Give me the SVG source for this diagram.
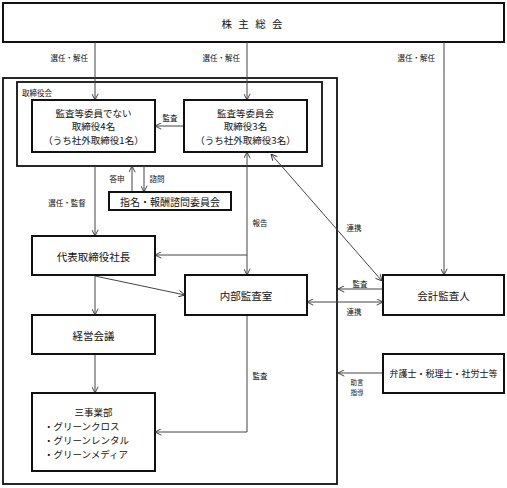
<svg xmlns="http://www.w3.org/2000/svg" width="507" height="488" viewBox="0 0 507 488">
<style>
text{font-family:"Noto Sans CJK JP","Noto Sans CJK SC",sans-serif;fill:#111;dominant-baseline:central}
.box{fill:#fff;stroke:#111;stroke-width:2}
.frame{fill:none;stroke:#111;stroke-width:1.8}
.c{fill:none;stroke:#444;stroke-width:1}
.t{font-size:9.5px;text-anchor:middle}
.ts{font-size:9.5px;text-anchor:start}
.tb{font-size:10.5px;text-anchor:middle}
.l{font-size:7.5px;text-anchor:middle}
.le{font-size:7.5px;text-anchor:end}
.s{font-size:6.5px;text-anchor:middle}
</style>
<defs>
<marker id="a" viewBox="0 0 10 10" refX="10" refY="5" markerWidth="7" markerHeight="7" markerUnits="userSpaceOnUse" orient="auto-start-reverse">
<path d="M1,0.5 L10,5 L1,9.5" fill="none" stroke="#333" stroke-width="1.3"/>
</marker>
</defs>
<rect x="0" y="0" width="507" height="488" fill="#fff"/>

<g id="shareholders">
<rect class="box" x="3" y="3" width="501" height="39"/>
<text class="tb" x="253" y="23" letter-spacing="2" xml:space="preserve">株 主 総 会</text>
</g>

<g id="company-frame">
<rect class="frame" x="3" y="78" width="334" height="406"/>
</g>

<g id="board">
<rect class="frame" x="17" y="82" width="305" height="84" stroke-width="2"/>
<text x="22" y="92" style="font-size:7.5px">取締役会</text>
</g>

<g id="connectors">
<line class="c" x1="95" y1="42" x2="95" y2="100" marker-end="url(#a)"/>
<line class="c" x1="247" y1="42" x2="247" y2="100" marker-end="url(#a)"/>
<line class="c" x1="444" y1="42" x2="444" y2="275" marker-end="url(#a)"/>
<line class="c" x1="184" y1="126" x2="155" y2="126" marker-end="url(#a)"/>
<line class="c" x1="132" y1="192" x2="132" y2="166" marker-end="url(#a)"/>
<line class="c" x1="144" y1="166" x2="144" y2="192" marker-end="url(#a)"/>
<line class="c" x1="95" y1="166" x2="95" y2="236" marker-end="url(#a)"/>
<line class="c" x1="247" y1="152" x2="247" y2="275" marker-start="url(#a)" marker-end="url(#a)"/>
<line class="c" x1="247" y1="255" x2="155" y2="255" marker-end="url(#a)"/>
<line class="c" x1="95" y1="275" x2="95" y2="315" marker-end="url(#a)"/>
<line class="c" x1="95" y1="276" x2="185" y2="295" marker-end="url(#a)"/>
<line class="c" x1="95" y1="354" x2="95" y2="393" marker-end="url(#a)"/>
<path class="c" d="M247,315 V432 H155" marker-end="url(#a)"/>
<line class="c" x1="271" y1="154" x2="382" y2="281" marker-start="url(#a)" marker-end="url(#a)"/>
<line class="c" x1="383" y1="289" x2="338" y2="289" marker-end="url(#a)"/>
<line class="c" x1="307" y1="302" x2="383" y2="302" marker-start="url(#a)" marker-end="url(#a)"/>
<line class="c" x1="383" y1="373" x2="338" y2="373" marker-end="url(#a)"/>
</g>

<g id="labels">
<text class="le" x="88" y="57">選任・解任</text>
<text class="le" x="240" y="57">選任・解任</text>
<text class="le" x="435" y="57">選任・解任</text>
<text class="l" x="170" y="117">監査</text>
<text class="l" x="117" y="178">答申</text>
<text class="l" x="157" y="178">諮問</text>
<text class="l" x="67" y="202">選任・監督</text>
<text class="l" x="260" y="222">報告</text>
<text class="l" x="354" y="227">連携</text>
<text class="l" x="360" y="283">監査</text>
<text class="l" x="354" y="311">連携</text>
<text class="l" x="260" y="375">監査</text>
<text class="s" x="357" y="382">助言</text>
<text class="s" x="357" y="392">指導</text>
</g>

<g id="directors">
<rect class="box" x="32" y="100" width="123" height="52"/>
<text class="t" x="93.5" y="112.5">監査等委員でない</text>
<text class="t" x="93.5" y="126">取締役4名</text>
<text class="t" x="93.5" y="139.5">（うち社外取締役1名）</text>
</g>

<g id="audit-committee">
<rect class="box" x="184" y="100" width="123" height="52"/>
<text class="t" x="245.5" y="112.5">監査等委員会</text>
<text class="t" x="245.5" y="126">取締役3名</text>
<text class="t" x="245.5" y="139.5">（うち社外取締役3名）</text>
</g>

<g id="nomination-committee">
<rect class="box" x="109" y="192" width="122" height="18"/>
<text class="t" x="170" y="201" style="font-size:10px">指名・報酬諮問委員会</text>
</g>

<g id="president">
<rect class="box" x="32" y="236" width="123" height="39"/>
<text class="tb" x="93.5" y="256">代表取締役社長</text>
</g>

<g id="internal-audit">
<rect class="box" x="185" y="275" width="122" height="40"/>
<text class="tb" x="246" y="295">内部監査室</text>
</g>

<g id="accounting-auditor">
<rect class="box" x="383" y="275" width="121" height="40"/>
<text class="tb" x="443.5" y="295">会計監査人</text>
</g>

<g id="management-meeting">
<rect class="box" x="32" y="315" width="123" height="39"/>
<text class="tb" x="93.5" y="335">経営会議</text>
</g>

<g id="divisions">
<rect class="box" x="32" y="393" width="123" height="78"/>
<text class="t" x="93.5" y="412">三事業部</text>
<text class="ts" x="44" y="426">・グリーンクロス</text>
<text class="ts" x="44" y="440">・グリーンレンタル</text>
<text class="ts" x="44" y="454">・グリーンメディア</text>
</g>

<g id="advisors">
<rect class="box" x="383" y="354" width="121" height="39"/>
<text class="t" x="443.5" y="373" style="font-size:9px">弁護士・税理士・社労士等</text>
</g>
</svg>
